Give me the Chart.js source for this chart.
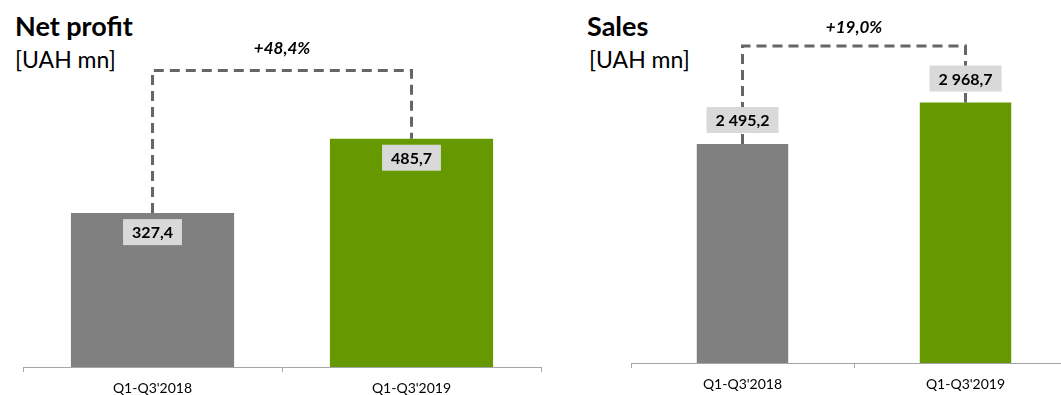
<!DOCTYPE html>
<html>
<head>
<meta charset="utf-8">
<script src="https://cdn.jsdelivr.net/npm/chart.js@4.4.0/dist/chart.umd.min.js"></script>
<style>
    html, body { margin: 0; padding: 0; background: #fff; overflow: hidden; }
    body { width: 1061px; height: 395px; position: relative; font-family: Lato, "Open Sans", sans-serif; }
    canvas { position: absolute; top: 0; }
    .titulo { position: absolute; font-weight: bold; font-size: 27px; color: #000; }
    .unidad { position: absolute; font-size: 23px; color: #000; }
</style>
</head>
<body>
<div class="titulo" style="left:15px; top:9px;">Net profit</div>
<div class="unidad" style="left:15px; top:45px;">[UAH mn]</div>
<div class="titulo" style="left:587px; top:9px;">Sales</div>
<div class="unidad" style="left:589px; top:45px;">[UAH mn]</div>
<canvas id="graficoBeneficio" width="560" height="395" style="left:0px;"></canvas>
<canvas id="graficoVentas" width="540" height="395" style="left:560px;"></canvas>
<script>
// Datos del gráfico
const categorias = ["Q1-Q3'2018", "Q1-Q3'2019"];
const beneficioNeto = [327.4, 485.7];
const ventas = [2495.2, 2968.7];
const etiquetasBeneficio = ['327,4', '485,7'];
const etiquetasVentas = ['2 495,2', '2 968,7'];
const cambioBeneficio = '+48,4%';
const cambioVentas = '+19,0%';
const coloresBarras = ['#808080', '#669900'];

// Dibuja la línea discontinua, el porcentaje y las etiquetas de cada barra
const pluginAnotaciones = {
    id: 'anotaciones',
    afterDatasetsDraw(chart, args, opts) {
        const ctx = chart.ctx;
        const barras = chart.getDatasetMeta(0).data;
        const yCorchete = chart.scales.y.getPixelForValue(opts.nivel);
        const x0 = barras[0].x, x1 = barras[1].x;

        ctx.save();
        ctx.strokeStyle = '#666666';
        ctx.lineWidth = 3;
        ctx.setLineDash([10, 6]);
        ctx.beginPath();
        ctx.moveTo(x0, barras[0].y);
        ctx.lineTo(x0, yCorchete);
        ctx.lineTo(x1, yCorchete);
        ctx.lineTo(x1, barras[1].y);
        ctx.stroke();
        ctx.setLineDash([]);

        // texto del porcentaje
        ctx.fillStyle = '#000';
        ctx.font = 'italic bold 17px Lato, sans-serif';
        ctx.textAlign = 'center';
        ctx.textBaseline = 'middle';
        ctx.fillText(opts.cambio, (x0 + x1) / 2, yCorchete - opts.distTexto);

        // etiquetas de valores
        ctx.font = 'bold 16px Lato, sans-serif';
        barras.forEach((barra, i) => {
            const texto = opts.etiquetas[i];
            const ancho = ctx.measureText(texto).width + 18;
            const alto = 26;
            const arriba = opts.dentro ? barra.y + 6 : barra.y - 11 - alto;
            ctx.fillStyle = '#d9d9d9';
            ctx.fillRect(barra.x - ancho / 2, arriba, ancho, alto);
            ctx.fillStyle = '#000';
            ctx.fillText(texto, barra.x, arriba + alto / 2 + 1);
        });
        ctx.restore();
    }
};

function crearGrafico(id, valores, max, alturaEje, relleno, anchoBarra, anotaciones) {
    const ctx = document.getElementById(id).getContext('2d');
    return new Chart(ctx, {
        type: 'bar',
        data: {
            labels: categorias,
            datasets: [{
                data: valores,
                backgroundColor: coloresBarras,
                borderWidth: 0,
                barPercentage: anchoBarra,
                categoryPercentage: 1
            }]
        },
        options: {
            responsive: false,
            animation: false,
            devicePixelRatio: 1,
            layout: { padding: relleno },
            scales: {
                x: {
                    grid: { display: true, offset: true, drawOnChartArea: false, drawTicks: true, tickLength: 5, color: '#a6a6a6' },
                    border: { display: true, color: '#a6a6a6', width: 1 },
                    ticks: { color: '#000', font: { family: 'Lato', size: 14 }, padding: 8 },
                    afterFit(scale) { scale.height = alturaEje; }
                },
                y: { display: false, min: 0, max: max }
            },
            plugins: {
                legend: { display: false },
                tooltip: { enabled: false },
                anotaciones: anotaciones
            }
        },
        plugins: [pluginAnotaciones]
    });
}

crearGrafico('graficoBeneficio', beneficioNeto, 700, 28,
    { left: 23, right: 19, top: 38, bottom: 0 }, 0.63,
    { nivel: 631, cambio: cambioBeneficio, etiquetas: etiquetasBeneficio, dentro: true, distTexto: 22 });

crearGrafico('graficoVentas', ventas, 4000, 32,
    { left: 71, right: 23, top: 12, bottom: 0 }, 0.41,
    { nivel: 3612, cambio: cambioVentas, etiquetas: etiquetasVentas, dentro: false, distTexto: 19 });
</script>
</body>
</html>
